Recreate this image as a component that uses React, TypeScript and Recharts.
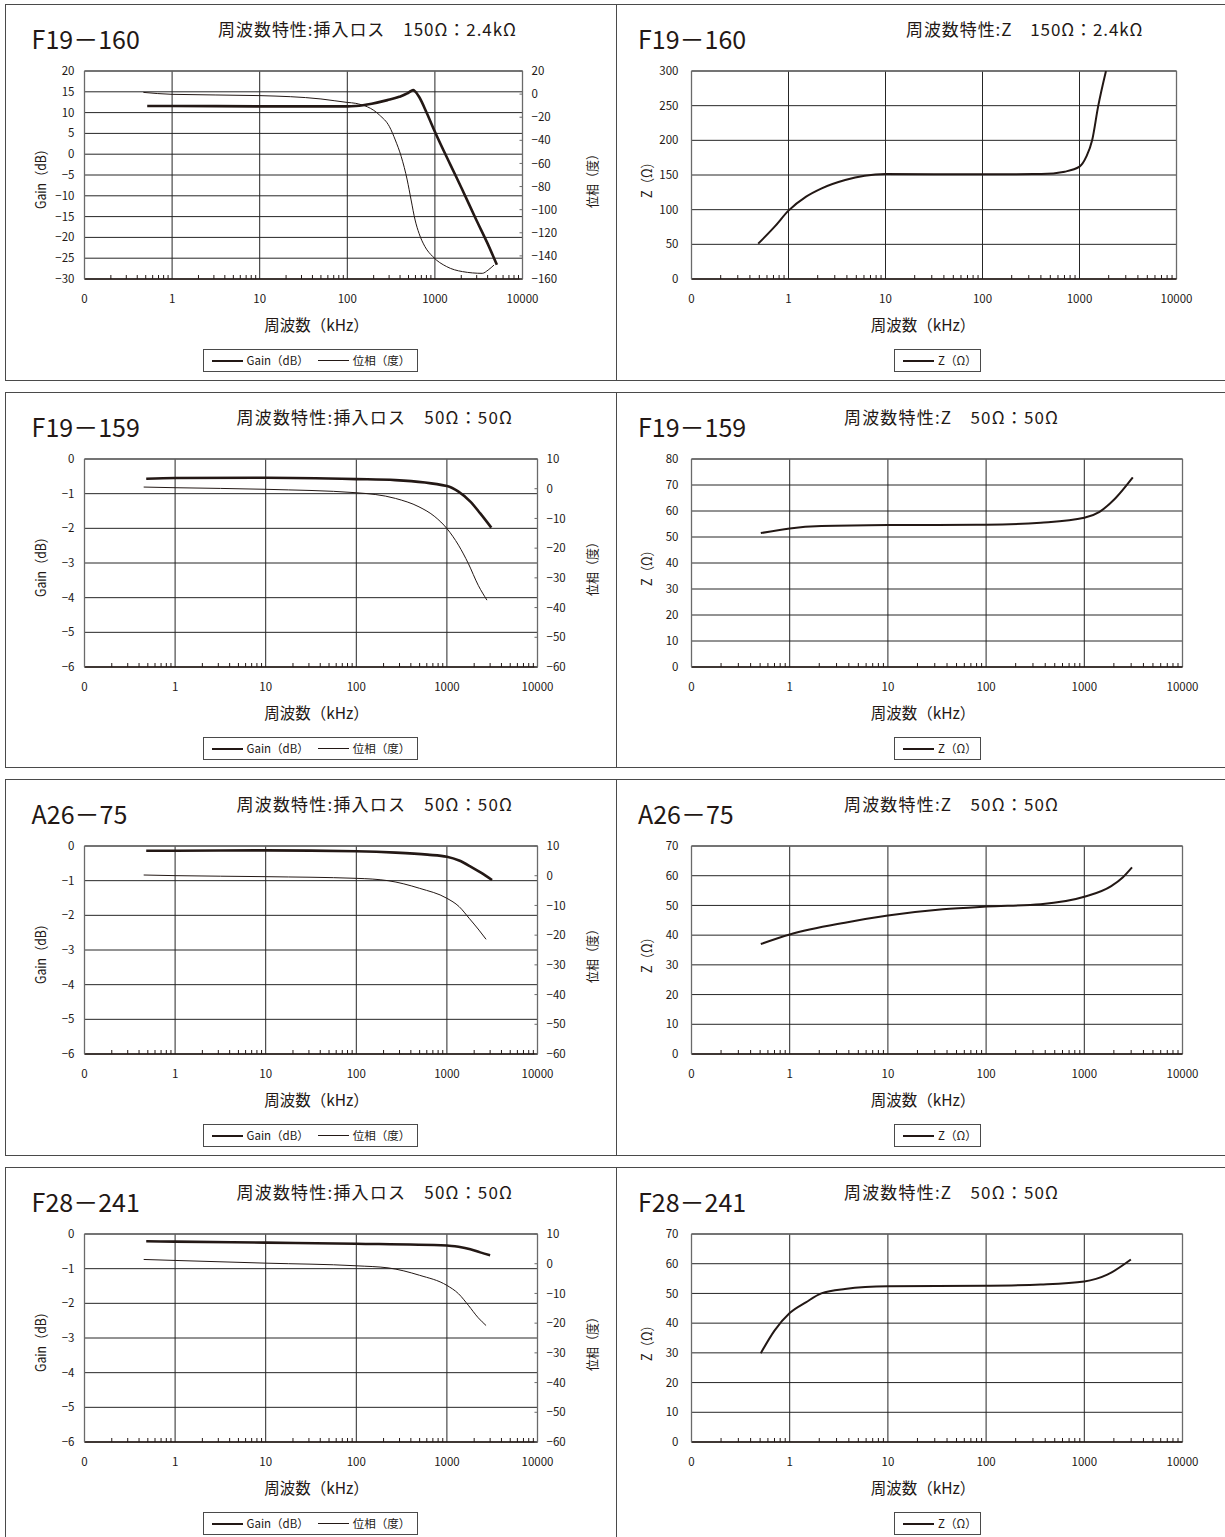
import React from 'react';
import { LineChart, Line, XAxis, YAxis, CartesianGrid, ReferenceLine, Legend } from 'recharts';

const FONT = '"Noto Sans CJK JP", "Noto Sans", sans-serif';
const INK = '#231815';
const GRID = '#262626';
const FRAME = '#6a6a6a';
const BOX = '#4a4a4a';

// ---- axis ticks ----
const decadeTicks = [0.1, 1, 10, 100, 1000, 10000];
const decadeLabels = ['0', '1', '10', '100', '1000', '10000'];
const minorTicks = [
  0.2, 0.3, 0.4, 0.5, 0.6, 0.7, 0.8, 0.9,
  2, 3, 4, 5, 6, 7, 8, 9,
  20, 30, 40, 50, 60, 70, 80, 90,
  200, 300, 400, 500, 600, 700, 800, 900,
  2000, 3000, 4000, 5000, 6000, 7000, 8000, 9000,
];
const gridDecades = [1, 10, 100, 1000];
const xTicks = [...decadeTicks, ...minorTicks].sort((a, b) => a - b);

const gainTicksWide = [-30, -25, -20, -15, -10, -5, 0, 5, 10, 15, 20];
const phaseTicksWide = [-160, -140, -120, -100, -80, -60, -40, -20, 0, 20];
const gainTicksNarrow = [-6, -5, -4, -3, -2, -1, 0];
const phaseTicksNarrow = [-60, -50, -40, -30, -20, -10, 0, 10];
const zTicks300 = [0, 50, 100, 150, 200, 250, 300];
const zTicks80 = [0, 10, 20, 30, 40, 50, 60, 70, 80];
const zTicks70 = [0, 10, 20, 30, 40, 50, 60, 70];

// ---- F19-160 ----
const f160GainFreq = [0.52, 1, 10, 100, 125, 190, 287, 392, 483, 535, 565, 594, 659, 812, 1000, 1500, 2000, 3000, 4000, 5100];
const f160Gain = [11.6, 11.6, 11.5, 11.5, 11.6, 12.15, 13.0, 13.8, 14.6, 15.2, 15.4, 15.1, 13.8, 9.8, 5.4, -2.5, -8.0, -16.0, -21.5, -26.6];
const f160PhaseFreq = [0.47, 1, 10, 50, 100, 125, 233, 303, 353, 413, 483, 535, 594, 659, 770, 948, 1363, 2063, 3470, 4060, 4730];
const f160Phase = [1.5, -0.2, -1.3, -4.2, -7.2, -8.0, -18.1, -28.2, -39.7, -54.1, -74.3, -91.6, -108.9, -120.5, -132.0, -140.7, -149.3, -153.6, -155.1, -152.2, -147.9];
const f160ZFreq = [0.487, 0.72, 1, 1.52, 2.2, 3.84, 6.1, 10, 100, 404, 704, 1000, 1175, 1352, 1555, 1875];
const f160Z = [51, 75.5, 98.6, 118.8, 130.8, 142.8, 149, 151.4, 151, 151.4, 154.8, 162, 176.4, 200.5, 248.6, 300];

// ---- F19-159 ----
const f159GainFreq = [0.48, 1, 10, 100, 270, 1000, 1343, 1815, 2334, 3090];
const f159Gain = [-0.57, -0.55, -0.54, -0.58, -0.61, -0.78, -0.94, -1.23, -1.57, -1.98];
const f159PhaseFreq = [0.45, 1, 10, 100, 270, 492, 736, 1000, 1343, 1726, 2218, 2767];
const f159Phase = [0.56, 0.34, -0.2, -1.35, -3.26, -6.1, -9.4, -13.4, -19.0, -25.2, -32.5, -37.5];
const f159ZFreq = [0.508, 1, 2.1, 10, 100, 360, 1000, 1430, 2063, 3117];
const f159Z = [51.5, 53.3, 54.2, 54.6, 54.7, 55.5, 57.4, 59.7, 64.8, 72.9];

// ---- A26-75 ----
const a75GainFreq = [0.48, 1, 10, 100, 273, 611, 1000, 1364, 1845, 2375, 3150];
const a75Gain = [-0.135, -0.135, -0.125, -0.15, -0.19, -0.25, -0.31, -0.42, -0.6, -0.77, -0.98];
const a75PhaseFreq = [0.45, 1, 10, 100, 224, 500, 1000, 1364, 1758, 2260, 2706];
const a75Phase = [0.24, 0.02, -0.32, -0.88, -1.67, -4.25, -7.6, -10.4, -14.3, -18.3, -21.4];
const a75ZFreq = [0.508, 1, 3.65, 10, 36.3, 100, 360, 1000, 1880, 2476, 3060];
const a75Z = [37.0, 40.2, 44.2, 46.6, 48.7, 49.6, 50.4, 52.9, 56.5, 59.5, 62.8];

// ---- F28-241 ----
const f241GainFreq = [0.48, 1, 10, 100, 1000, 1343, 1815, 2334, 3000];
const f241Gain = [-0.21, -0.22, -0.25, -0.28, -0.33, -0.37, -0.44, -0.53, -0.61];
const f241PhaseFreq = [0.45, 1, 10, 100, 224, 500, 1000, 1343, 1726, 2218, 2706];
const f241Phase = [1.43, 1.1, 0.19, -0.7, -1.4, -3.9, -7.3, -10.1, -14.0, -18.2, -20.8];
const f241ZFreq = [0.508, 0.7, 1, 1.46, 2.1, 3.65, 10, 100, 360, 1000, 1714, 2980];
const f241Z = [29.9, 37.5, 43.4, 47.0, 50.0, 51.5, 52.4, 52.6, 53.0, 54.0, 56.3, 61.4];

const pts = (freq: number[], vals: number[]) => freq.map((f, i) => ({ f, v: vals[i] }));

type LossCfg = {
  title: string;
  subtitle: string;
  subX: number;
  subW: number;
  gain: { f: number; v: number }[];
  phase: { f: number; v: number }[];
  gainDomain: [number, number];
  gainTicks: number[];
  phaseDomain: [number, number];
  phaseTicks: number[];
  plotRight: number;
};

type ZCfg = {
  title: string;
  subtitle: string;
  subX: number;
  subW: number;
  z: { f: number; v: number }[];
  zDomain: [number, number];
  zTicks: number[];
  plotRight: number;
};

const lossPanels: LossCfg[] = [
  {
    title: 'F19－160', subtitle: '周波数特性:挿入ロス　150Ω：2.4kΩ', subX: 218, subW: 298,
    gain: pts(f160GainFreq, f160Gain), phase: pts(f160PhaseFreq, f160Phase),
    gainDomain: [-30, 20], gainTicks: gainTicksWide, phaseDomain: [-160, 20], phaseTicks: phaseTicksWide, plotRight: 522.5,
  },
  {
    title: 'F19－159', subtitle: '周波数特性:挿入ロス　50Ω：50Ω', subX: 236.5, subW: 275.5,
    gain: pts(f159GainFreq, f159Gain), phase: pts(f159PhaseFreq, f159Phase),
    gainDomain: [-6, 0], gainTicks: gainTicksNarrow, phaseDomain: [-60, 10], phaseTicks: phaseTicksNarrow, plotRight: 537.5,
  },
  {
    title: 'A26－75', subtitle: '周波数特性:挿入ロス　50Ω：50Ω', subX: 236.5, subW: 275.5,
    gain: pts(a75GainFreq, a75Gain), phase: pts(a75PhaseFreq, a75Phase),
    gainDomain: [-6, 0], gainTicks: gainTicksNarrow, phaseDomain: [-60, 10], phaseTicks: phaseTicksNarrow, plotRight: 537.5,
  },
  {
    title: 'F28－241', subtitle: '周波数特性:挿入ロス　50Ω：50Ω', subX: 236.5, subW: 275.5,
    gain: pts(f241GainFreq, f241Gain), phase: pts(f241PhaseFreq, f241Phase),
    gainDomain: [-6, 0], gainTicks: gainTicksNarrow, phaseDomain: [-60, 10], phaseTicks: phaseTicksNarrow, plotRight: 537.5,
  },
];

const zPanels: ZCfg[] = [
  { title: 'F19－160', subtitle: '周波数特性:Z　150Ω：2.4kΩ', subX: 290, subW: 236.5, z: pts(f160ZFreq, f160Z), zDomain: [0, 300], zTicks: zTicks300, plotRight: 560.5 },
  { title: 'F19－159', subtitle: '周波数特性:Z　50Ω：50Ω', subX: 228, subW: 214, z: pts(f159ZFreq, f159Z), zDomain: [0, 80], zTicks: zTicks80, plotRight: 566.5 },
  { title: 'A26－75', subtitle: '周波数特性:Z　50Ω：50Ω', subX: 228, subW: 214, z: pts(a75ZFreq, a75Z), zDomain: [0, 70], zTicks: zTicks70, plotRight: 566.5 },
  { title: 'F28－241', subtitle: '周波数特性:Z　50Ω：50Ω', subX: 228, subW: 214, z: pts(f241ZFreq, f241Z), zDomain: [0, 70], zTicks: zTicks70, plotRight: 566.5 },
];

const rowTops = [4, 392, 779, 1167];
const rowHeights = [377, 376, 377, 377];
const CHART_H = 377;
const LEFT_W = 616;
const RIGHT_W = 609;

const minus = (v: number) => String(v).replace('-', '\u2212');

function XTick(props: any) {
  const { x, y, payload } = props;
  const v = payload && payload.value;
  const i = decadeTicks.indexOf(v);
  if (i >= 0) {
    return (
      <text x={x} y={y + 24} textAnchor="middle" fontSize={11.5} fill={INK} fontFamily={FONT}>
        {decadeLabels[i]}
      </text>
    );
  }
  return <line x1={x} x2={x} y1={y} y2={y - 4} stroke={INK} strokeWidth={1} />;
}

function LegendBox(props: any) {
  const payload = props.payload || [];
  const width = props.boxWidth;
  return (
    <div
      style={{
        boxSizing: 'border-box', width, height: 23, border: `1px solid ${BOX}`, background: '#fff',
        display: 'flex', alignItems: 'center', paddingLeft: 8, fontFamily: FONT, fontSize: 11.5,
        color: INK, whiteSpace: 'nowrap', lineHeight: '21px',
      }}
    >
      {payload.map((it: any, i: number) => {
        const sw = (it.payload && it.payload.strokeWidth) || 1;
        return (
          <span key={i} style={{ display: 'flex', alignItems: 'center', marginRight: 9 }}>
            <span style={{ display: 'inline-block', width: 31, height: 0, borderTop: `${sw}px solid ${INK}`, marginRight: 4 }} />
            <span>{it.value}</span>
          </span>
        );
      })}
    </div>
  );
}

const tickStyle = { fontSize: 11.5, fill: INK, fontFamily: FONT };

function LossChart({ cfg, top }: { cfg: LossCfg; top: number }) {
  const gMax = cfg.gainDomain[1];
  return (
    <div style={{ position: 'absolute', left: 0, top, width: LEFT_W, height: CHART_H }}>
      <LineChart
        width={LEFT_W}
        height={CHART_H}
        margin={{ top: 67, left: 24.5, right: LEFT_W - cfg.plotRight - 60, bottom: 62 }}
      >
        <CartesianGrid vertical={false} stroke={GRID} strokeWidth={1} />
        {gridDecades.map((d) => (
          <ReferenceLine key={d} x={d} stroke={GRID} strokeWidth={1} />
        ))}
        <ReferenceLine y={gMax} stroke={FRAME} strokeWidth={1.3} />
        <XAxis
          dataKey="f" type="number" scale="log" domain={[0.1, 10000]} ticks={xTicks} interval={0}
          allowDataOverflow tickSize={0} tickMargin={0} tickLine={false}
          axisLine={{ stroke: INK, strokeWidth: 1.3 }} tick={<XTick />} height={40}
        />
        <YAxis
          type="number" domain={cfg.gainDomain} ticks={cfg.gainTicks} interval={0} allowDataOverflow
          width={60} tickSize={0} tickMargin={10} tickLine={false}
          axisLine={{ stroke: FRAME, strokeWidth: 1.3 }} tick={tickStyle} tickFormatter={minus}
        />
        <YAxis
          yAxisId="p" orientation="right" type="number" domain={cfg.phaseDomain} ticks={cfg.phaseTicks}
          interval={0} allowDataOverflow width={60} tickSize={-3} tickMargin={12}
          tickLine={{ stroke: FRAME }} axisLine={{ stroke: FRAME, strokeWidth: 1.3 }}
          tick={{ ...tickStyle, textAnchor: 'start' }} tickFormatter={minus}
        />
        <Line
          data={cfg.gain} dataKey="v" name="Gain（dB）" type="monotone" stroke={INK} strokeWidth={2.6}
          dot={false} activeDot={false} isAnimationActive={false}
        />
        <Line
          yAxisId="p" data={cfg.phase} dataKey="v" name="位相（度）" type="monotone" stroke={INK}
          strokeWidth={1} dot={false} activeDot={false} isAnimationActive={false}
        />
        <Legend
          layout="horizontal" verticalAlign="middle" align="center"
          wrapperStyle={{ left: 202.5, top: 345, width: 215, height: 23 }}
          content={<LegendBox boxWidth={215} />}
        />
      </LineChart>
      <svg
        width={LEFT_W} height={CHART_H}
        style={{ position: 'absolute', left: 0, top: 0, pointerEvents: 'none', overflow: 'visible' }}
        fontFamily={FONT} fill={INK}
      >
        <text x={31.6} y={45} fontSize={25}>{cfg.title}</text>
        <text x={cfg.subX} y={31.5} fontSize={17} textLength={cfg.subW} lengthAdjust="spacing">{cfg.subtitle}</text>
        <text transform="translate(39.5,172) rotate(-90)" textAnchor="middle" dominantBaseline="central" fontSize={14} textLength={66} lengthAdjust="spacingAndGlyphs">Gain（dB）</text>
        <text transform="translate(591,174) rotate(-90)" textAnchor="middle" dominantBaseline="central" fontSize={13} textLength={60} lengthAdjust="spacingAndGlyphs">位相（度）</text>
        <text x={316.5} y={326.5} textAnchor="middle" fontSize={15.5}>周波数（kHz）</text>
      </svg>
    </div>
  );
}

function ZChart({ cfg, top }: { cfg: ZCfg; top: number }) {
  const zMax = cfg.zDomain[1];
  return (
    <div style={{ position: 'absolute', left: LEFT_W, top, width: RIGHT_W, height: CHART_H }}>
      <LineChart
        width={RIGHT_W}
        height={CHART_H}
        margin={{ top: 67, left: 15.5, right: RIGHT_W - cfg.plotRight, bottom: 62 }}
      >
        <CartesianGrid vertical={false} stroke={GRID} strokeWidth={1} />
        {gridDecades.map((d) => (
          <ReferenceLine key={d} x={d} stroke={GRID} strokeWidth={1} />
        ))}
        <ReferenceLine y={zMax} stroke={FRAME} strokeWidth={1.3} />
        <ReferenceLine x={10000} stroke={FRAME} strokeWidth={1.3} />
        <XAxis
          dataKey="f" type="number" scale="log" domain={[0.1, 10000]} ticks={xTicks} interval={0}
          allowDataOverflow tickSize={0} tickMargin={0} tickLine={false}
          axisLine={{ stroke: INK, strokeWidth: 1.3 }} tick={<XTick />} height={40}
        />
        <YAxis
          type="number" domain={cfg.zDomain} ticks={cfg.zTicks} interval={0} allowDataOverflow
          width={60} tickSize={0} tickMargin={13} tickLine={false}
          axisLine={{ stroke: FRAME, strokeWidth: 1.3 }} tick={tickStyle}
        />
        <Line
          data={cfg.z} dataKey="v" name="Z（Ω）" type="monotone" stroke={INK} strokeWidth={2}
          dot={false} activeDot={false} isAnimationActive={false}
        />
        <Legend
          layout="horizontal" verticalAlign="middle" align="center"
          wrapperStyle={{ left: 278, top: 345, width: 87, height: 23 }}
          content={<LegendBox boxWidth={87} />}
        />
      </LineChart>
      <svg
        width={RIGHT_W} height={CHART_H}
        style={{ position: 'absolute', left: 0, top: 0, pointerEvents: 'none', overflow: 'visible' }}
        fontFamily={FONT} fill={INK}
      >
        <text x={22} y={45} fontSize={25}>{cfg.title}</text>
        <text x={cfg.subX} y={31.5} fontSize={17} textLength={cfg.subW} lengthAdjust="spacing">{cfg.subtitle}</text>
        <text transform="translate(30,173) rotate(-90)" textAnchor="middle" dominantBaseline="central" fontSize={14} textLength={42} lengthAdjust="spacingAndGlyphs">Z（Ω）</text>
        <text x={307} y={326.5} textAnchor="middle" fontSize={15.5}>周波数（kHz）</text>
      </svg>
    </div>
  );
}

export default function App() {
  return (
    <div
      style={{
        position: 'absolute', left: 0, top: 0, width: 1225, height: 1537, overflow: 'hidden',
        background: '#fff', fontFamily: FONT, color: INK,
      }}
    >
      {rowTops.map((t, i) => (
        <React.Fragment key={i}>
          <div
            style={{
              position: 'absolute', left: 5, top: t, width: 1235, height: rowHeights[i],
              border: `1px solid ${BOX}`, boxSizing: 'border-box',
            }}
          />
          <div style={{ position: 'absolute', left: 616, top: t, width: 1, height: rowHeights[i], background: BOX }} />
          <LossChart cfg={lossPanels[i]} top={t} />
          <ZChart cfg={zPanels[i]} top={t} />
        </React.Fragment>
      ))}
    </div>
  );
}
